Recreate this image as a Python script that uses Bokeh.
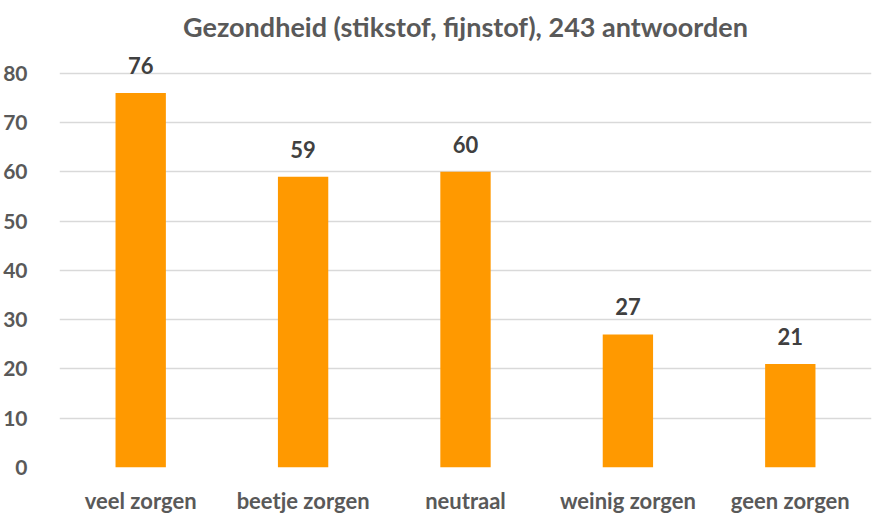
from bokeh.plotting import figure
from bokeh.models import ColumnDataSource, LabelSet, Range1d, FixedTicker
from bokeh.core.properties import value
from bokeh.embed import file_html
from bokeh.resources import INLINE

categories = ["veel zorgen", "beetje zorgen", "neutraal", "weinig zorgen", "geen zorgen"]
values = [76, 59, 60, 27, 21]
y_ticks = [0, 10, 20, 30, 40, 50, 60, 70, 80]

FONT = "Lato"
GRAY = "#595959"

src = ColumnDataSource(dict(cat=categories, val=values, lab=[str(v) for v in values]))

p = figure(x_range=categories, y_range=Range1d(0, 84),
           frame_width=812, frame_height=414,
           min_border_left=52, min_border_right=5, min_border_top=46, min_border_bottom=39,
           output_backend="svg", toolbar_location=None,
           title="Gezondheid (stikstof, fijnstof), 243 antwoorden")

p.title.align = "center"
p.title.vertical_align = "top"
p.title.text_font = FONT
p.title.text_font_size = "27px"
p.title.text_font_style = "bold"
p.title.text_color = GRAY
p.title.standoff = 18

p.vbar(x="cat", top="val", width=0.31, source=src, color="#FF9900", line_color=None)

labels = LabelSet(x="cat", y="val", text="lab", source=src, y_offset=19,
                  text_align="center", text_baseline="bottom",
                  text_font=value(FONT), text_font_style="bold", text_font_size="22px",
                  text_color="#404040")
p.add_layout(labels)

p.yaxis.ticker = FixedTicker(ticks=y_ticks)
for ax in (p.xaxis, p.yaxis):
    ax.axis_line_color = None
    ax.major_tick_line_color = None
    ax.minor_tick_line_color = None
    ax.major_label_text_font = FONT
    ax.major_label_text_font_style = "bold"
    ax.major_label_text_color = GRAY
p.yaxis.major_label_text_font_size = "21px"
p.xaxis.major_label_text_font_size = "22px"
p.yaxis.major_label_standoff = 26
p.xaxis.major_label_standoff = 13

p.xgrid.grid_line_color = None
p.ygrid.grid_line_color = "#D9D9D9"
p.ygrid.grid_line_width = 1.5
p.ygrid.ticker = FixedTicker(ticks=y_ticks)
p.outline_line_color = None

open("out.html", "w").write(file_html(p, INLINE))
